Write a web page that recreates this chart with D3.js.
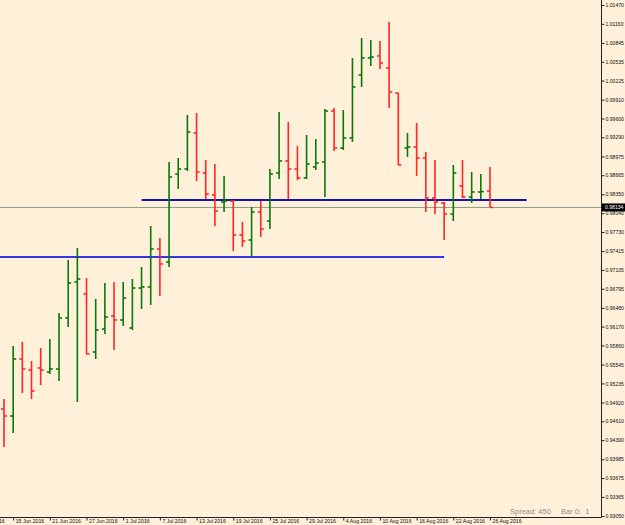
<!DOCTYPE html>
<html>
<head>
<meta charset="utf-8">
<title>EURCHF? Daily bars</title>
<script src="https://d3js.org/d3.v7.min.js"></script>
<style>
  body { margin: 0; background: #fff0d9; }
  svg { display: block; }
  text { font-family: "Liberation Sans", Arial, sans-serif; }
</style>
</head>
<body>
<svg width="625" height="525"></svg>
<script>
// trading days, 14 Jun - 26 Aug 2016
const dates = [
  "2016-06-14","2016-06-15","2016-06-16","2016-06-17","2016-06-20","2016-06-21","2016-06-22","2016-06-23","2016-06-24",
  "2016-06-27","2016-06-28","2016-06-29","2016-06-30","2016-07-01","2016-07-04","2016-07-05","2016-07-06","2016-07-07",
  "2016-07-08","2016-07-11","2016-07-12","2016-07-13","2016-07-14","2016-07-15","2016-07-18","2016-07-19","2016-07-20",
  "2016-07-21","2016-07-22","2016-07-25","2016-07-26","2016-07-27","2016-07-28","2016-07-29","2016-08-01","2016-08-02",
  "2016-08-03","2016-08-04","2016-08-05","2016-08-08","2016-08-09","2016-08-10","2016-08-11","2016-08-12","2016-08-15",
  "2016-08-16","2016-08-17","2016-08-18","2016-08-19","2016-08-22","2016-08-23","2016-08-24","2016-08-25","2016-08-26"
];
const open = [
  0.94813,0.94698,0.95637,0.95456,0.95489,0.95423,0.95472,0.96313,0.96906,
  0.96708,0.95752,0.96131,0.96346,0.96280,0.96148,0.96807,0.96824,0.97450,
  0.97235,0.98685,0.98768,0.99361,0.98702,0.98339,0.98224,0.98240,0.97680,
  0.97598,0.98059,0.97911,0.98702,0.98900,0.98768,0.98620,0.98801,0.98883,
  0.99723,0.99114,0.99279,1.00317,1.00597,1.00630,1.00432,1.00020,0.99114,
  0.99130,0.98949,0.98290,0.98208,0.98026,0.98488,0.98306,0.98389,0.98405
];
const high = [
  0.94978,0.95851,0.95917,0.95604,0.95818,0.95967,0.96395,0.97268,0.97466,
  0.96972,0.96626,0.96889,0.96906,0.96906,0.96955,0.97153,0.97829,0.97631,
  0.98883,0.98949,0.99658,0.99690,0.98916,0.98850,0.98652,0.98257,0.97895,
  0.98142,0.98240,0.98768,0.99707,0.99542,0.99147,0.99328,0.99262,0.99756,
  0.99773,0.99740,1.00597,1.00926,1.00893,1.00877,1.01190,1.00020,0.99361,
  0.99526,0.99048,0.98916,0.98224,0.98834,0.98916,0.98718,0.98685,0.98801
];
const low = [
  0.94187,0.94418,0.95077,0.94978,0.95209,0.95390,0.95275,0.96164,0.94929,
  0.95720,0.95637,0.96049,0.95785,0.96181,0.96115,0.96461,0.96527,0.96675,
  0.97153,0.98438,0.98735,0.98570,0.98273,0.97829,0.98059,0.97417,0.97483,
  0.97318,0.97647,0.97779,0.98603,0.98273,0.98587,0.98603,0.98751,0.98306,
  0.99064,0.99081,0.99213,1.00119,1.00465,1.00415,0.99773,0.98834,0.98966,
  0.98652,0.98059,0.98026,0.97598,0.97911,0.98290,0.98208,0.98273,0.98142
];
const close = [
  0.94698,0.95637,0.95472,0.95110,0.95456,0.95472,0.96313,0.96889,0.96955,
  0.95720,0.96115,0.96329,0.96280,0.96642,0.96807,0.96824,0.97450,0.97203,
  0.98636,0.98768,0.99377,0.98718,0.98356,0.98076,0.98240,0.97680,0.97581,
  0.98059,0.97779,0.98685,0.98900,0.98768,0.98620,0.98850,0.98867,0.99723,
  0.99114,0.99279,1.00119,1.00597,1.00613,1.00514,1.00036,0.98834,0.99130,
  0.98949,0.98290,0.98224,0.98026,0.98702,0.98306,0.98389,0.98395,0.98134
];

const priceTicks = [1.01470,1.01160,1.00845,1.00535,1.00225,0.99910,0.99600,0.99290,0.98975,0.98665,
  0.98350,0.98040,0.97730,0.97415,0.97105,0.96795,0.96480,0.96170,0.95860,0.95545,0.95235,
  0.94920,0.94610,0.94300,0.93985,0.93675,0.93365,0.93050];
// date labels (bar index, text); the first one sits off the left edge
const dateTickIdx = [-3,1,5,9,13,17,21,25,29,33,37,41,45,49,53];
const dateTickText = ["9 Jun 2016","15 Jun 2016","21 Jun 2016","27 Jun 2016","1 Jul 2016","7 Jul 2016",
  "13 Jul 2016","19 Jul 2016","25 Jul 2016","29 Jul 2016","4 Aug 2016","10 Aug 2016",
  "16 Aug 2016","22 Aug 2016","26 Aug 2016"];

// hand drawn horizontal levels: price, from bar, to bar
const levelPrice = [0.98257, 0.97318];
const levelFrom = [15, -0.5];
const levelTo = [57, 48];
const levelColor = ["#1414b4", "#3535e6"];

const lastPrice = 0.98134;

const svg = d3.select("svg");
const W = 601, H = 517;

const x = d3.scaleLinear().domain([0, dates.length - 1]).range([4, 490]);
const y = d3.scaleLinear().domain([0.93050, 1.01470]).range([516, 5]);

const bars = dates.map((d, i) => ({ d, i, o: open[i], h: high[i], l: low[i], c: close[i] }));

const plot = svg.append("g");
plot.append("defs").append("clipPath").attr("id", "clip")
  .append("rect").attr("width", W).attr("height", H);

// last price line
plot.append("line")
  .attr("x1", 0).attr("x2", W)
  .attr("y1", y(lastPrice)).attr("y2", y(lastPrice))
  .attr("stroke", "#8e9e8e").attr("stroke-width", 1);

// levels
plot.selectAll(".level").data(levelPrice).enter().append("line")
  .attr("class", "level")
  .attr("clip-path", "url(#clip)")
  .attr("x1", (d, i) => x(levelFrom[i])).attr("x2", (d, i) => x(levelTo[i]))
  .attr("y1", d => y(d)).attr("y2", d => y(d))
  .attr("stroke", (d, i) => levelColor[i]).attr("stroke-width", 2);

// OHLC bars
const col = b => b.c >= b.o ? "#087808" : "#ff2626";
const g = plot.selectAll(".bar").data(bars).enter().append("g").attr("class", "bar")
  .attr("stroke", col).attr("stroke-width", 1.6);
g.append("line").attr("x1", b => x(b.i)).attr("x2", b => x(b.i))
  .attr("y1", b => y(b.h)).attr("y2", b => y(b.l));
g.append("line").attr("x1", b => x(b.i) - 3).attr("x2", b => x(b.i))
  .attr("y1", b => y(b.o)).attr("y2", b => y(b.o));
g.append("line").attr("x1", b => x(b.i)).attr("x2", b => x(b.i) + 3)
  .attr("y1", b => y(b.c)).attr("y2", b => y(b.c));

// frame
svg.append("line").attr("x1", W + 0.5).attr("x2", W + 0.5).attr("y1", 0).attr("y2", H + 0.5)
  .attr("stroke", "#222");
svg.append("line").attr("x1", 0).attr("x2", W + 0.5).attr("y1", H + 0.5).attr("y2", H + 0.5)
  .attr("stroke", "#222");

// price axis
const yAxis = svg.append("g")
  .attr("transform", `translate(${W + 0.5},0)`)
  .call(d3.axisRight(y).tickValues(priceTicks).tickFormat(d3.format(".5f")).tickSize(3).tickPadding(1));
yAxis.select(".domain").remove();
yAxis.selectAll("text").attr("font-size", 5.1).attr("fill", "#111").attr("font-family", "Liberation Sans, Arial");
yAxis.selectAll("line").attr("stroke", "#222");

// last price marker
const lp = svg.append("g").attr("transform", `translate(${W + 1},${y(lastPrice)})`);
lp.append("rect").attr("x", 0).attr("y", -4).attr("width", 24).attr("height", 8).attr("fill", "#000");
lp.append("text").attr("x", 3).attr("y", 0).attr("dy", "0.35em")
  .attr("font-size", 5.1).attr("fill", "#fff").text(d3.format(".5f")(lastPrice));

// date axis
const xAxis = svg.append("g")
  .attr("transform", `translate(0,${H + 0.5})`)
  .call(d3.axisBottom(x).tickValues(dateTickIdx)
    .tickFormat((d, i) => dateTickText[i]).tickSize(3).tickPadding(1));
xAxis.select(".domain").remove();
xAxis.selectAll("line").attr("stroke", "#222");
xAxis.selectAll("text").attr("text-anchor", "start").attr("dx", 2).attr("dy", "0.3em")
  .attr("font-size", 5.2).attr("fill", "#111").attr("font-family", "Liberation Sans, Arial");

// status text
svg.append("text").attr("x", 510).attr("y", 514)
  .attr("font-size", 7.5).attr("fill", "#8f8f8f")
  .text("Spread: 450");
svg.append("text").attr("x", 561).attr("y", 514)
  .attr("font-size", 7.5).attr("fill", "#8f8f8f").attr("xml:space", "preserve")
  .text("Bar 0:  1");
</script>
</body>
</html>
